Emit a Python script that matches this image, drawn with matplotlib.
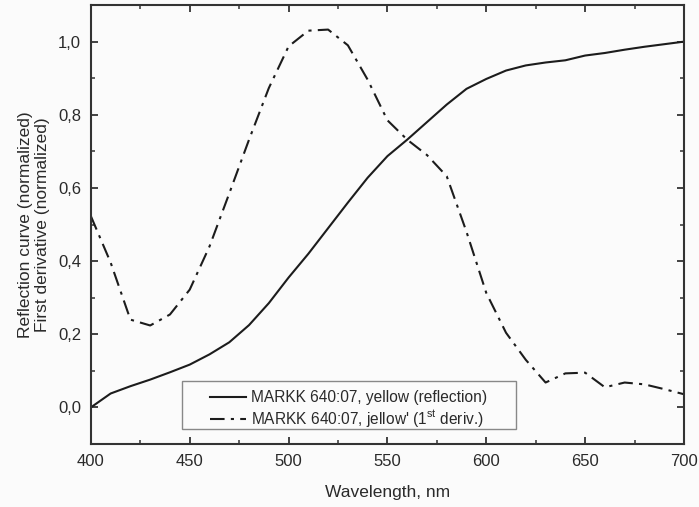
import matplotlib
matplotlib.use("Agg")
import matplotlib.pyplot as plt
from matplotlib.patches import Rectangle
from matplotlib.ticker import MultipleLocator, FuncFormatter

plt.rcParams["font.family"] = ["Liberation Sans", "DejaVu Sans"]
plt.rcParams["mathtext.fontset"] = "custom"
plt.rcParams["mathtext.rm"] = "Liberation Sans"

# ---------------------------------------------------------------------------
# Data
# ---------------------------------------------------------------------------
wavelength = [400, 410, 420, 430, 440, 450, 460, 470, 480, 490, 500,
              510, 520, 530, 540, 550, 560, 570, 580, 590, 600,
              610, 620, 630, 640, 650, 660, 670, 680, 690, 700]

reflection = [0.0, 0.038, 0.058, 0.076, 0.096, 0.117, 0.145, 0.178, 0.225, 0.285, 0.355,
              0.42, 0.49, 0.56, 0.628, 0.687, 0.732, 0.78, 0.828, 0.871, 0.898,
              0.921, 0.935, 0.943, 0.949, 0.962, 0.969, 0.978, 0.986, 0.993, 1.0]

derivative = [0.523, 0.396, 0.24, 0.224, 0.254, 0.322, 0.44, 0.585, 0.732, 0.873, 0.987,
              1.03, 1.033, 0.99, 0.896, 0.785, 0.732, 0.69, 0.632, 0.48, 0.313,
              0.204, 0.13, 0.068, 0.093, 0.095, 0.055, 0.068, 0.063, 0.05, 0.036]

label_refl = "MARKK 640:07, yellow (reflection)"
label_deriv = r"MARKK 640:07, jellow' (1$^{\mathrm{st}}$ deriv.)"

# ---------------------------------------------------------------------------
# Plot
# ---------------------------------------------------------------------------
bg = "#fbfbfb"
text_color = "#2a2a2a"
line_color = "#1c1c1c"

fig = plt.figure(figsize=(6.99, 5.07), dpi=100, facecolor=bg)
ax = fig.add_axes([0.130, 0.1243, 0.8485, 0.8657])
ax.set_facecolor(bg)

ax.plot(wavelength, reflection, color=line_color, lw=1.5, label=label_refl)
ax.plot(wavelength, derivative, color=line_color, lw=1.5,
        dashes=(7, 3, 1.5, 3), label=label_deriv)

ax.set_xlim(400, 700)
ax.set_ylim(-0.1, 1.1)
ax.xaxis.set_major_locator(MultipleLocator(50))
ax.xaxis.set_minor_locator(MultipleLocator(25))
ax.yaxis.set_major_locator(MultipleLocator(0.2))
ax.yaxis.set_minor_locator(MultipleLocator(0.1))
ax.yaxis.set_major_formatter(
    FuncFormatter(lambda v, p: f"{v:.1f}".replace(".", ",").replace("-0,0", "0,0")))

ax.tick_params(which="both", direction="in", top=True, right=True,
               color="#333333", labelsize=12, labelcolor=text_color)
ax.tick_params(which="major", length=5, width=1.3, pad=7)
ax.tick_params(which="minor", length=3, width=1.1)
for s in ax.spines.values():
    s.set_linewidth(1.5)
    s.set_color("#333333")

ax.set_xlabel("Wavelength, nm", fontsize=12.5, color=text_color, labelpad=12)
ax.set_ylabel("Reflection curve (normalized)\nFirst derivative (normalized)",
              fontsize=12.5, color=text_color, labelpad=6, linespacing=1.15)

# legend frame drawn separately (wide side padding as in the original)
ax.add_patch(Rectangle((0.1535, 0.0342), 0.5632, 0.1093, transform=ax.transAxes,
                       facecolor=bg, edgecolor="#888888", lw=1.0, zorder=4))
leg = ax.legend(loc="lower left", bbox_to_anchor=(0.201, 0.033), fontsize=11.2,
                frameon=False, handlelength=2.3, borderpad=0, borderaxespad=0,
                labelspacing=0.22, handletextpad=0.3)
leg.set_zorder(5)
for t in leg.get_texts():
    t.set_color(text_color)

fig.savefig("out.png", dpi=100, facecolor=fig.get_facecolor())
